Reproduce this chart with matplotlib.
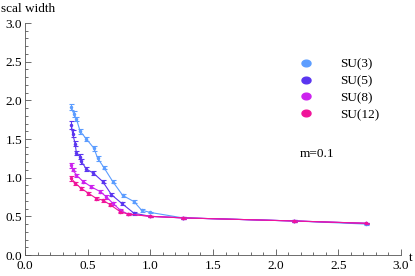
import matplotlib
matplotlib.use("Agg")
import matplotlib.pyplot as plt
from matplotlib.ticker import MultipleLocator, FormatStrFormatter
from matplotlib.lines import Line2D
from matplotlib.path import Path
import numpy as np

plt.rcParams['font.family'] = ['Liberation Serif', 'DejaVu Serif']

labels = ["SU(3)", "SU(5)", "SU(8)", "SU(12)"]
colors = ["#5c9dff", "#5a35f0", "#cc22ee", "#f0149a"]

t3 = [0.37, 0.39, 0.41, 0.44, 0.49, 0.55, 0.58, 0.63, 0.70, 0.78, 0.87, 0.93, 1.00, 1.26, 2.15, 2.72]
y3 = [1.91, 1.82, 1.76, 1.60, 1.50, 1.38, 1.25, 1.13, 0.95, 0.77, 0.69, 0.58, 0.55, 0.48, 0.44, 0.40]
e3 = [0.04, 0.04, 0.03, 0.03, 0.03, 0.03, 0.03, 0.02, 0.02, 0.02, 0.02, 0.02, 0.01, 0.01, 0.01, 0.01]

t5 = [0.37, 0.38, 0.40, 0.41, 0.44, 0.45, 0.49, 0.545, 0.62, 0.69, 0.77, 0.87, 1.00, 1.26, 2.15, 2.72]
y5 = [1.68, 1.57, 1.44, 1.32, 1.27, 1.21, 1.11, 1.06, 0.95, 0.78, 0.67, 0.54, 0.50, 0.48, 0.44, 0.41]
e5 = [0.05, 0.04, 0.03, 0.03, 0.03, 0.03, 0.03, 0.02, 0.02, 0.02, 0.02, 0.02, 0.01, 0.01, 0.01, 0.01]

t8 = [0.37, 0.385, 0.41, 0.465, 0.53, 0.60, 0.65, 0.70, 0.76, 0.82, 1.00, 1.26, 2.15, 2.72]
y8 = [1.16, 1.10, 1.03, 0.95, 0.88, 0.82, 0.75, 0.67, 0.58, 0.53, 0.50, 0.48, 0.44, 0.41]
e8 = [0.03, 0.02, 0.02, 0.02, 0.02, 0.02, 0.02, 0.02, 0.02, 0.01, 0.01, 0.01, 0.01, 0.01]

t12 = [0.37, 0.40, 0.45, 0.505, 0.57, 0.62, 0.68, 0.76, 0.82, 1.00, 1.26, 2.15, 2.72]
y12 = [0.99, 0.93, 0.86, 0.80, 0.73, 0.71, 0.65, 0.56, 0.53, 0.50, 0.48, 0.44, 0.41]
e12 = [0.03, 0.02, 0.02, 0.02, 0.02, 0.02, 0.02, 0.02, 0.01, 0.01, 0.01, 0.01, 0.01]

series = [(t3, y3, e3), (t5, y5, e5), (t8, y8, e8), (t12, y12, e12)]

fig = plt.figure(figsize=(4.15, 2.76), dpi=100)
ax = fig.add_axes([25/415, 21/276, 376/415, 232/276])

for (t, y, e), c in zip(series, colors):
    ax.errorbar(t, y, yerr=e, color=c, lw=0.8, elinewidth=0.8, capsize=1.8,
                capthick=0.8, marker='o', ms=1.5, clip_on=False)

ax.set_xlim(0, 3.0)
ax.set_ylim(0, 3.0)
ax.xaxis.set_major_locator(MultipleLocator(0.5))
ax.xaxis.set_minor_locator(MultipleLocator(0.1))
ax.yaxis.set_major_locator(MultipleLocator(0.5))
ax.yaxis.set_minor_locator(MultipleLocator(0.1))
ax.xaxis.set_major_formatter(FormatStrFormatter('%.1f'))
ax.yaxis.set_major_formatter(FormatStrFormatter('%.1f'))
ax.tick_params(which='both', direction='in', labelsize=9.5, color='#555555', width=0.6)
ax.tick_params(which='major', length=4)
ax.tick_params(which='minor', length=2)
ax.tick_params(axis='y', pad=2)
for lab in ax.get_xticklabels() + ax.get_yticklabels():
    lab.set_fontfamily(['Liberation Serif', 'DejaVu Serif'])
for s in ['top', 'right']:
    ax.spines[s].set_visible(False)
for s in ['left', 'bottom']:
    ax.spines[s].set_color('#555555')
    ax.spines[s].set_linewidth(0.6)

fig.text(1/415, 1 - 9/276, "scal width", fontsize=9.5, ha='left', va='center')
fig.text(409/415, 1 - 258/276, "t", fontsize=9.5, ha='left', va='center')

theta = np.linspace(0, 2*np.pi, 40)
ell = Path(np.column_stack([1.35*np.cos(theta), np.sin(theta)]), closed=True)
handles = [Line2D([], [], ls='none', marker=ell, color=c, ms=6.5) for c in colors]
leg = ax.legend(handles, labels, loc='upper left', bbox_to_anchor=(0.69, 0.90),
                frameon=False, fontsize=9.5, handletextpad=1.8, labelspacing=0.35,
                handlelength=1.5)

ax.text(0.73, 0.435, "m=0.1", transform=ax.transAxes, fontsize=9.5, ha='left', va='center')

fig.savefig("out.png", dpi=100)
